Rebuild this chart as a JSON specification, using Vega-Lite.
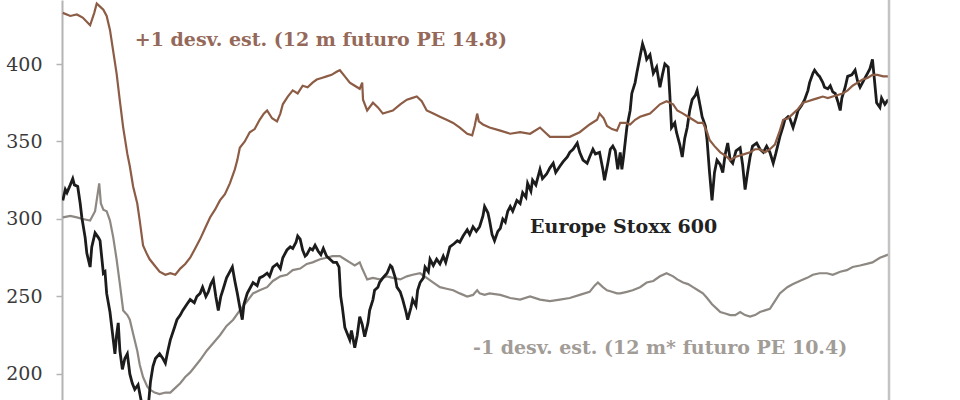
{
  "$schema": "https://vega.github.io/schema/vega-lite/v6.json",
  "width": 827,
  "height": 400,
  "autosize": "none",
  "padding": {"left": 62, "right": 71, "top": 0, "bottom": 0},
  "background": "white",
  "config": {"view": {"stroke": null}},
  "datasets": {
    "plus": [
      {"year":2008.21,"value":433},{"year":2008.30,"value":431},{"year":2008.38,"value":432},{"year":2008.45,"value":430},{"year":2008.54,"value":425},{"year":2008.59,"value":433},{"year":2008.62,"value":439},{"year":2008.66,"value":437},{"year":2008.70,"value":435},{"year":2008.74,"value":431},{"year":2008.78,"value":422},{"year":2008.82,"value":408},{"year":2008.86,"value":394},{"year":2008.90,"value":376},{"year":2008.94,"value":359},{"year":2008.99,"value":342},{"year":2009.02,"value":334},{"year":2009.06,"value":321},{"year":2009.11,"value":310},{"year":2009.14,"value":299},{"year":2009.18,"value":283},{"year":2009.23,"value":277},{"year":2009.26,"value":274},{"year":2009.32,"value":270},{"year":2009.38,"value":266},{"year":2009.45,"value":264},{"year":2009.51,"value":265},{"year":2009.57,"value":264},{"year":2009.63,"value":268},{"year":2009.69,"value":271},{"year":2009.75,"value":275},{"year":2009.81,"value":281},{"year":2009.87,"value":287},{"year":2009.93,"value":294},{"year":2009.99,"value":301},{"year":2010.05,"value":306},{"year":2010.11,"value":312},{"year":2010.17,"value":316},{"year":2010.23,"value":323},{"year":2010.29,"value":332},{"year":2010.32,"value":338},{"year":2010.35,"value":346},{"year":2010.41,"value":350},{"year":2010.47,"value":356},{"year":2010.53,"value":358},{"year":2010.59,"value":364},{"year":2010.64,"value":368},{"year":2010.68,"value":370},{"year":2010.74,"value":365},{"year":2010.80,"value":363},{"year":2010.84,"value":368},{"year":2010.87,"value":374},{"year":2010.93,"value":379},{"year":2010.99,"value":383},{"year":2011.05,"value":381},{"year":2011.11,"value":386},{"year":2011.17,"value":385},{"year":2011.23,"value":388},{"year":2011.28,"value":390},{"year":2011.34,"value":391},{"year":2011.40,"value":392},{"year":2011.46,"value":393},{"year":2011.52,"value":395},{"year":2011.56,"value":396},{"year":2011.62,"value":392},{"year":2011.68,"value":388},{"year":2011.74,"value":386},{"year":2011.80,"value":384},{"year":2011.83,"value":388},{"year":2011.84,"value":377},{"year":2011.89,"value":370},{"year":2011.96,"value":375},{"year":2012.02,"value":372},{"year":2012.08,"value":368},{"year":2012.14,"value":369},{"year":2012.20,"value":370},{"year":2012.29,"value":374},{"year":2012.37,"value":377},{"year":2012.43,"value":378},{"year":2012.49,"value":379},{"year":2012.55,"value":376},{"year":2012.61,"value":370},{"year":2012.69,"value":368},{"year":2012.77,"value":366},{"year":2012.85,"value":364},{"year":2012.93,"value":362},{"year":2013.01,"value":359},{"year":2013.10,"value":355},{"year":2013.16,"value":354},{"year":2013.19,"value":360},{"year":2013.22,"value":368},{"year":2013.24,"value":363},{"year":2013.29,"value":361},{"year":2013.37,"value":359},{"year":2013.50,"value":357},{"year":2013.62,"value":355},{"year":2013.74,"value":356},{"year":2013.86,"value":355},{"year":2013.98,"value":359},{"year":2014.04,"value":356},{"year":2014.10,"value":353},{"year":2014.22,"value":353},{"year":2014.34,"value":353},{"year":2014.46,"value":356},{"year":2014.58,"value":361},{"year":2014.67,"value":364},{"year":2014.70,"value":368},{"year":2014.75,"value":365},{"year":2014.79,"value":360},{"year":2014.85,"value":358},{"year":2014.91,"value":357},{"year":2014.95,"value":362},{"year":2015.01,"value":362},{"year":2015.07,"value":361},{"year":2015.13,"value":364},{"year":2015.19,"value":366},{"year":2015.25,"value":367},{"year":2015.31,"value":368},{"year":2015.37,"value":371},{"year":2015.43,"value":374},{"year":2015.51,"value":376},{"year":2015.59,"value":374},{"year":2015.64,"value":370},{"year":2015.71,"value":368},{"year":2015.77,"value":366},{"year":2015.83,"value":364},{"year":2015.89,"value":362},{"year":2015.95,"value":362},{"year":2016.00,"value":356},{"year":2016.03,"value":351},{"year":2016.09,"value":347},{"year":2016.16,"value":343},{"year":2016.22,"value":341},{"year":2016.28,"value":338},{"year":2016.34,"value":340},{"year":2016.40,"value":341},{"year":2016.46,"value":342},{"year":2016.52,"value":343},{"year":2016.58,"value":345},{"year":2016.64,"value":345},{"year":2016.70,"value":343},{"year":2016.76,"value":345},{"year":2016.82,"value":348},{"year":2016.88,"value":357},{"year":2016.92,"value":364},{"year":2016.98,"value":365},{"year":2017.04,"value":368},{"year":2017.10,"value":371},{"year":2017.16,"value":375},{"year":2017.22,"value":376},{"year":2017.28,"value":377},{"year":2017.34,"value":378},{"year":2017.40,"value":379},{"year":2017.46,"value":378},{"year":2017.52,"value":379},{"year":2017.58,"value":380},{"year":2017.64,"value":381},{"year":2017.70,"value":383},{"year":2017.76,"value":386},{"year":2017.82,"value":388},{"year":2017.88,"value":390},{"year":2017.94,"value":391},{"year":2018.00,"value":393},{"year":2018.06,"value":393},{"year":2018.13,"value":392},{"year":2018.19,"value":392}
    ],
    "minus": [
      {"year":2008.21,"value":301},{"year":2008.30,"value":302},{"year":2008.38,"value":301},{"year":2008.45,"value":300},{"year":2008.54,"value":299},{"year":2008.60,"value":305},{"year":2008.65,"value":323},{"year":2008.67,"value":310},{"year":2008.70,"value":306},{"year":2008.74,"value":305},{"year":2008.78,"value":299},{"year":2008.82,"value":288},{"year":2008.86,"value":274},{"year":2008.90,"value":258},{"year":2008.94,"value":241},{"year":2008.99,"value":238},{"year":2009.02,"value":235},{"year":2009.06,"value":226},{"year":2009.11,"value":215},{"year":2009.14,"value":206},{"year":2009.18,"value":198},{"year":2009.23,"value":192},{"year":2009.26,"value":190},{"year":2009.32,"value":188},{"year":2009.38,"value":187},{"year":2009.45,"value":188},{"year":2009.51,"value":188},{"year":2009.57,"value":191},{"year":2009.63,"value":194},{"year":2009.69,"value":198},{"year":2009.75,"value":201},{"year":2009.81,"value":205},{"year":2009.87,"value":209},{"year":2009.95,"value":215},{"year":2010.03,"value":220},{"year":2010.11,"value":225},{"year":2010.19,"value":231},{"year":2010.27,"value":235},{"year":2010.35,"value":241},{"year":2010.44,"value":247},{"year":2010.51,"value":252},{"year":2010.59,"value":254},{"year":2010.68,"value":256},{"year":2010.75,"value":260},{"year":2010.84,"value":263},{"year":2010.92,"value":264},{"year":2010.99,"value":267},{"year":2011.08,"value":268},{"year":2011.16,"value":271},{"year":2011.23,"value":272},{"year":2011.32,"value":274},{"year":2011.40,"value":275},{"year":2011.47,"value":276},{"year":2011.56,"value":276},{"year":2011.62,"value":274},{"year":2011.68,"value":272},{"year":2011.74,"value":270},{"year":2011.80,"value":272},{"year":2011.83,"value":268},{"year":2011.89,"value":261},{"year":2011.96,"value":262},{"year":2012.04,"value":261},{"year":2012.13,"value":263},{"year":2012.20,"value":262},{"year":2012.29,"value":261},{"year":2012.37,"value":263},{"year":2012.44,"value":264},{"year":2012.53,"value":265},{"year":2012.61,"value":262},{"year":2012.69,"value":259},{"year":2012.77,"value":256},{"year":2012.85,"value":255},{"year":2012.93,"value":254},{"year":2013.01,"value":252},{"year":2013.10,"value":250},{"year":2013.17,"value":251},{"year":2013.22,"value":254},{"year":2013.25,"value":252},{"year":2013.31,"value":251},{"year":2013.37,"value":252},{"year":2013.50,"value":251},{"year":2013.62,"value":249},{"year":2013.74,"value":248},{"year":2013.86,"value":250},{"year":2013.98,"value":248},{"year":2014.10,"value":247},{"year":2014.22,"value":248},{"year":2014.34,"value":249},{"year":2014.46,"value":251},{"year":2014.58,"value":253},{"year":2014.64,"value":257},{"year":2014.68,"value":259},{"year":2014.74,"value":256},{"year":2014.79,"value":254},{"year":2014.85,"value":253},{"year":2014.91,"value":252},{"year":2014.95,"value":252},{"year":2015.03,"value":253},{"year":2015.10,"value":254},{"year":2015.19,"value":256},{"year":2015.27,"value":259},{"year":2015.35,"value":260},{"year":2015.43,"value":263},{"year":2015.51,"value":265},{"year":2015.59,"value":263},{"year":2015.64,"value":261},{"year":2015.71,"value":259},{"year":2015.77,"value":258},{"year":2015.83,"value":256},{"year":2015.89,"value":254},{"year":2015.95,"value":252},{"year":2016.00,"value":249},{"year":2016.06,"value":245},{"year":2016.12,"value":242},{"year":2016.16,"value":240},{"year":2016.22,"value":239},{"year":2016.28,"value":238},{"year":2016.34,"value":238},{"year":2016.40,"value":240},{"year":2016.46,"value":238},{"year":2016.52,"value":237},{"year":2016.58,"value":238},{"year":2016.64,"value":240},{"year":2016.70,"value":241},{"year":2016.76,"value":242},{"year":2016.82,"value":247},{"year":2016.88,"value":252},{"year":2016.97,"value":256},{"year":2017.04,"value":258},{"year":2017.12,"value":260},{"year":2017.21,"value":262},{"year":2017.28,"value":264},{"year":2017.36,"value":265},{"year":2017.45,"value":265},{"year":2017.52,"value":264},{"year":2017.61,"value":266},{"year":2017.69,"value":267},{"year":2017.76,"value":269},{"year":2017.85,"value":270},{"year":2017.93,"value":271},{"year":2018.00,"value":272},{"year":2018.09,"value":275},{"year":2018.19,"value":277}
    ],
    "stoxx": [
      {"year":2008.21,"value":312},{"year":2008.24,"value":319},{"year":2008.26,"value":317},{"year":2008.30,"value":322},{"year":2008.33,"value":326},{"year":2008.35,"value":322},{"year":2008.39,"value":321},{"year":2008.42,"value":310},{"year":2008.44,"value":301},{"year":2008.48,"value":288},{"year":2008.50,"value":278},{"year":2008.54,"value":269},{"year":2008.56,"value":282},{"year":2008.60,"value":291},{"year":2008.64,"value":288},{"year":2008.66,"value":286},{"year":2008.70,"value":265},{"year":2008.72,"value":266},{"year":2008.74,"value":252},{"year":2008.78,"value":240},{"year":2008.80,"value":231},{"year":2008.84,"value":213},{"year":2008.86,"value":225},{"year":2008.88,"value":233},{"year":2008.90,"value":215},{"year":2008.93,"value":203},{"year":2008.96,"value":210},{"year":2008.99,"value":213},{"year":2009.02,"value":200},{"year":2009.05,"value":194},{"year":2009.08,"value":190},{"year":2009.12,"value":193},{"year":2009.16,"value":182},{"year":2009.18,"value":175},{"year":2009.21,"value":165},{"year":2009.23,"value":170},{"year":2009.25,"value":183},{"year":2009.27,"value":195},{"year":2009.30,"value":205},{"year":2009.33,"value":210},{"year":2009.38,"value":213},{"year":2009.42,"value":210},{"year":2009.45,"value":207},{"year":2009.48,"value":215},{"year":2009.51,"value":222},{"year":2009.56,"value":230},{"year":2009.59,"value":235},{"year":2009.63,"value":238},{"year":2009.66,"value":241},{"year":2009.71,"value":245},{"year":2009.75,"value":248},{"year":2009.80,"value":246},{"year":2009.83,"value":250},{"year":2009.87,"value":252},{"year":2009.90,"value":256},{"year":2009.94,"value":250},{"year":2009.97,"value":253},{"year":2010.00,"value":258},{"year":2010.03,"value":261},{"year":2010.06,"value":250},{"year":2010.09,"value":241},{"year":2010.12,"value":250},{"year":2010.15,"value":255},{"year":2010.19,"value":262},{"year":2010.23,"value":266},{"year":2010.26,"value":269},{"year":2010.29,"value":260},{"year":2010.32,"value":252},{"year":2010.35,"value":243},{"year":2010.38,"value":235},{"year":2010.40,"value":245},{"year":2010.44,"value":252},{"year":2010.47,"value":255},{"year":2010.51,"value":259},{"year":2010.56,"value":257},{"year":2010.59,"value":262},{"year":2010.63,"value":263},{"year":2010.68,"value":265},{"year":2010.71,"value":263},{"year":2010.75,"value":269},{"year":2010.80,"value":271},{"year":2010.84,"value":268},{"year":2010.87,"value":275},{"year":2010.92,"value":280},{"year":2010.96,"value":282},{"year":2010.99,"value":281},{"year":2011.03,"value":285},{"year":2011.05,"value":289},{"year":2011.08,"value":287},{"year":2011.11,"value":280},{"year":2011.14,"value":276},{"year":2011.16,"value":277},{"year":2011.20,"value":281},{"year":2011.23,"value":280},{"year":2011.26,"value":283},{"year":2011.30,"value":279},{"year":2011.33,"value":277},{"year":2011.36,"value":281},{"year":2011.40,"value":276},{"year":2011.44,"value":274},{"year":2011.48,"value":272},{"year":2011.52,"value":272},{"year":2011.55,"value":269},{"year":2011.57,"value":250},{"year":2011.59,"value":243},{"year":2011.62,"value":230},{"year":2011.65,"value":226},{"year":2011.68,"value":222},{"year":2011.70,"value":228},{"year":2011.74,"value":217},{"year":2011.77,"value":225},{"year":2011.80,"value":237},{"year":2011.83,"value":232},{"year":2011.86,"value":224},{"year":2011.90,"value":233},{"year":2011.92,"value":241},{"year":2011.96,"value":248},{"year":2011.98,"value":254},{"year":2012.02,"value":256},{"year":2012.04,"value":259},{"year":2012.08,"value":262},{"year":2012.13,"value":265},{"year":2012.17,"value":270},{"year":2012.19,"value":269},{"year":2012.23,"value":262},{"year":2012.25,"value":256},{"year":2012.29,"value":253},{"year":2012.32,"value":248},{"year":2012.36,"value":240},{"year":2012.38,"value":235},{"year":2012.42,"value":243},{"year":2012.44,"value":248},{"year":2012.48,"value":244},{"year":2012.50,"value":254},{"year":2012.53,"value":259},{"year":2012.57,"value":262},{"year":2012.59,"value":269},{"year":2012.63,"value":266},{"year":2012.65,"value":274},{"year":2012.69,"value":270},{"year":2012.73,"value":274},{"year":2012.77,"value":271},{"year":2012.81,"value":276},{"year":2012.84,"value":272},{"year":2012.89,"value":282},{"year":2012.94,"value":284},{"year":2012.98,"value":286},{"year":2013.01,"value":285},{"year":2013.05,"value":289},{"year":2013.10,"value":293},{"year":2013.13,"value":290},{"year":2013.17,"value":295},{"year":2013.21,"value":292},{"year":2013.25,"value":295},{"year":2013.29,"value":302},{"year":2013.31,"value":308},{"year":2013.35,"value":304},{"year":2013.37,"value":299},{"year":2013.40,"value":290},{"year":2013.43,"value":286},{"year":2013.47,"value":292},{"year":2013.50,"value":294},{"year":2013.53,"value":300},{"year":2013.56,"value":298},{"year":2013.59,"value":305},{"year":2013.62,"value":308},{"year":2013.65,"value":305},{"year":2013.70,"value":312},{"year":2013.74,"value":310},{"year":2013.77,"value":317},{"year":2013.81,"value":314},{"year":2013.83,"value":323},{"year":2013.87,"value":318},{"year":2013.89,"value":325},{"year":2013.93,"value":322},{"year":2013.98,"value":332},{"year":2014.01,"value":326},{"year":2014.06,"value":329},{"year":2014.10,"value":333},{"year":2014.14,"value":336},{"year":2014.17,"value":330},{"year":2014.22,"value":334},{"year":2014.26,"value":337},{"year":2014.31,"value":340},{"year":2014.34,"value":343},{"year":2014.38,"value":345},{"year":2014.43,"value":349},{"year":2014.46,"value":343},{"year":2014.50,"value":338},{"year":2014.55,"value":336},{"year":2014.58,"value":340},{"year":2014.62,"value":345},{"year":2014.65,"value":342},{"year":2014.70,"value":343},{"year":2014.74,"value":332},{"year":2014.76,"value":325},{"year":2014.80,"value":336},{"year":2014.83,"value":345},{"year":2014.86,"value":347},{"year":2014.89,"value":344},{"year":2014.92,"value":332},{"year":2014.95,"value":343},{"year":2014.97,"value":332},{"year":2014.99,"value":340},{"year":2015.03,"value":359},{"year":2015.07,"value":370},{"year":2015.09,"value":381},{"year":2015.13,"value":388},{"year":2015.15,"value":394},{"year":2015.19,"value":405},{"year":2015.22,"value":413},{"year":2015.25,"value":408},{"year":2015.27,"value":403},{"year":2015.31,"value":406},{"year":2015.35,"value":394},{"year":2015.39,"value":398},{"year":2015.43,"value":385},{"year":2015.46,"value":393},{"year":2015.49,"value":400},{"year":2015.53,"value":398},{"year":2015.55,"value":380},{"year":2015.57,"value":359},{"year":2015.61,"value":362},{"year":2015.63,"value":356},{"year":2015.67,"value":348},{"year":2015.70,"value":340},{"year":2015.73,"value":352},{"year":2015.76,"value":359},{"year":2015.79,"value":370},{"year":2015.82,"value":377},{"year":2015.86,"value":380},{"year":2015.88,"value":383},{"year":2015.92,"value":372},{"year":2015.94,"value":366},{"year":2015.98,"value":360},{"year":2016.00,"value":351},{"year":2016.03,"value":330},{"year":2016.06,"value":312},{"year":2016.09,"value":330},{"year":2016.12,"value":338},{"year":2016.16,"value":335},{"year":2016.19,"value":330},{"year":2016.22,"value":342},{"year":2016.25,"value":349},{"year":2016.28,"value":338},{"year":2016.31,"value":336},{"year":2016.35,"value":344},{"year":2016.40,"value":346},{"year":2016.43,"value":335},{"year":2016.46,"value":319},{"year":2016.49,"value":330},{"year":2016.52,"value":340},{"year":2016.55,"value":347},{"year":2016.60,"value":349},{"year":2016.64,"value":345},{"year":2016.68,"value":343},{"year":2016.72,"value":347},{"year":2016.76,"value":343},{"year":2016.80,"value":336},{"year":2016.83,"value":342},{"year":2016.88,"value":353},{"year":2016.92,"value":360},{"year":2016.94,"value":364},{"year":2016.98,"value":366},{"year":2017.00,"value":365},{"year":2017.04,"value":359},{"year":2017.08,"value":366},{"year":2017.10,"value":370},{"year":2017.14,"value":373},{"year":2017.18,"value":377},{"year":2017.22,"value":383},{"year":2017.24,"value":388},{"year":2017.28,"value":394},{"year":2017.30,"value":396},{"year":2017.34,"value":393},{"year":2017.36,"value":392},{"year":2017.40,"value":388},{"year":2017.42,"value":385},{"year":2017.46,"value":384},{"year":2017.49,"value":386},{"year":2017.52,"value":382},{"year":2017.55,"value":381},{"year":2017.58,"value":376},{"year":2017.61,"value":370},{"year":2017.63,"value":378},{"year":2017.67,"value":385},{"year":2017.70,"value":392},{"year":2017.75,"value":393},{"year":2017.79,"value":396},{"year":2017.82,"value":389},{"year":2017.85,"value":385},{"year":2017.88,"value":388},{"year":2017.91,"value":391},{"year":2017.94,"value":394},{"year":2017.97,"value":397},{"year":2018.00,"value":403},{"year":2018.02,"value":392},{"year":2018.05,"value":375},{"year":2018.09,"value":372},{"year":2018.11,"value":378},{"year":2018.15,"value":374},{"year":2018.19,"value":377}
    ],
    "labels": [
      {"year":2009.08,"value":415.5,"label":"+1 desv. est. (12 m futuro PE 14.8)","kind":"plus"},
      {"year":2013.86,"value":294.8,"label":"Europe Stoxx 600","kind":"stoxx"},
      {"year":2013.17,"value":216.8,"label":"-1 desv. est. (12 m* futuro PE 10.4)","kind":"minus"}
    ]
  },
  "encoding": {
    "x": {"field": "year", "type": "quantitative", "axis": null, "scale": {"domain": [2008.2, 2018.2], "nice": false, "zero": false}},
    "y": {"field": "value", "type": "quantitative", "scale": {"domain": [183.2, 441.3], "nice": false, "zero": false},
      "axis": {"title": null, "values": [200, 250, 300, 350, 400], "grid": false, "domainColor": "#b4b4b4", "domainWidth": 2, "tickColor": "#b4b4b4", "tickSize": 6, "tickWidth": 1.5, "labelFont": "DejaVu Serif", "labelFontSize": 19, "labelColor": "#3a3a3a", "labelPadding": 14}}
  },
  "layer": [
    {"data": {"name": "minus"}, "mark": {"type": "line", "clip": true, "color": "#8e8883", "strokeWidth": 2.2}},
    {"data": {"name": "stoxx"}, "mark": {"type": "line", "clip": true, "color": "#1c1c1c", "strokeWidth": 2.8}},
    {"data": {"name": "plus"}, "mark": {"type": "line", "clip": true, "color": "#8c5c45", "strokeWidth": 2.2}},
    {"data": {"values": [{"edge": 2018.2}]}, "mark": {"type": "rule", "color": "#c4c4c4", "strokeWidth": 2.5},
      "encoding": {"x": {"field": "edge", "type": "quantitative"}, "y": null}},
    {"data": {"name": "labels"}, "transform": [{"filter": "datum.kind == 'plus'"}],
      "mark": {"type": "text", "align": "left", "baseline": "middle", "font": "DejaVu Serif", "fontSize": 19, "fontWeight": "bold", "color": "#95695a"},
      "encoding": {"text": {"field": "label"}}},
    {"data": {"name": "labels"}, "transform": [{"filter": "datum.kind == 'stoxx'"}],
      "mark": {"type": "text", "align": "left", "baseline": "middle", "font": "DejaVu Serif", "fontSize": 19, "fontWeight": "bold", "color": "#222222"},
      "encoding": {"text": {"field": "label"}}},
    {"data": {"name": "labels"}, "transform": [{"filter": "datum.kind == 'minus'"}],
      "mark": {"type": "text", "align": "left", "baseline": "middle", "font": "DejaVu Serif", "fontSize": 19, "fontWeight": "bold", "color": "#a29c97"},
      "encoding": {"text": {"field": "label"}}}
  ]
}
